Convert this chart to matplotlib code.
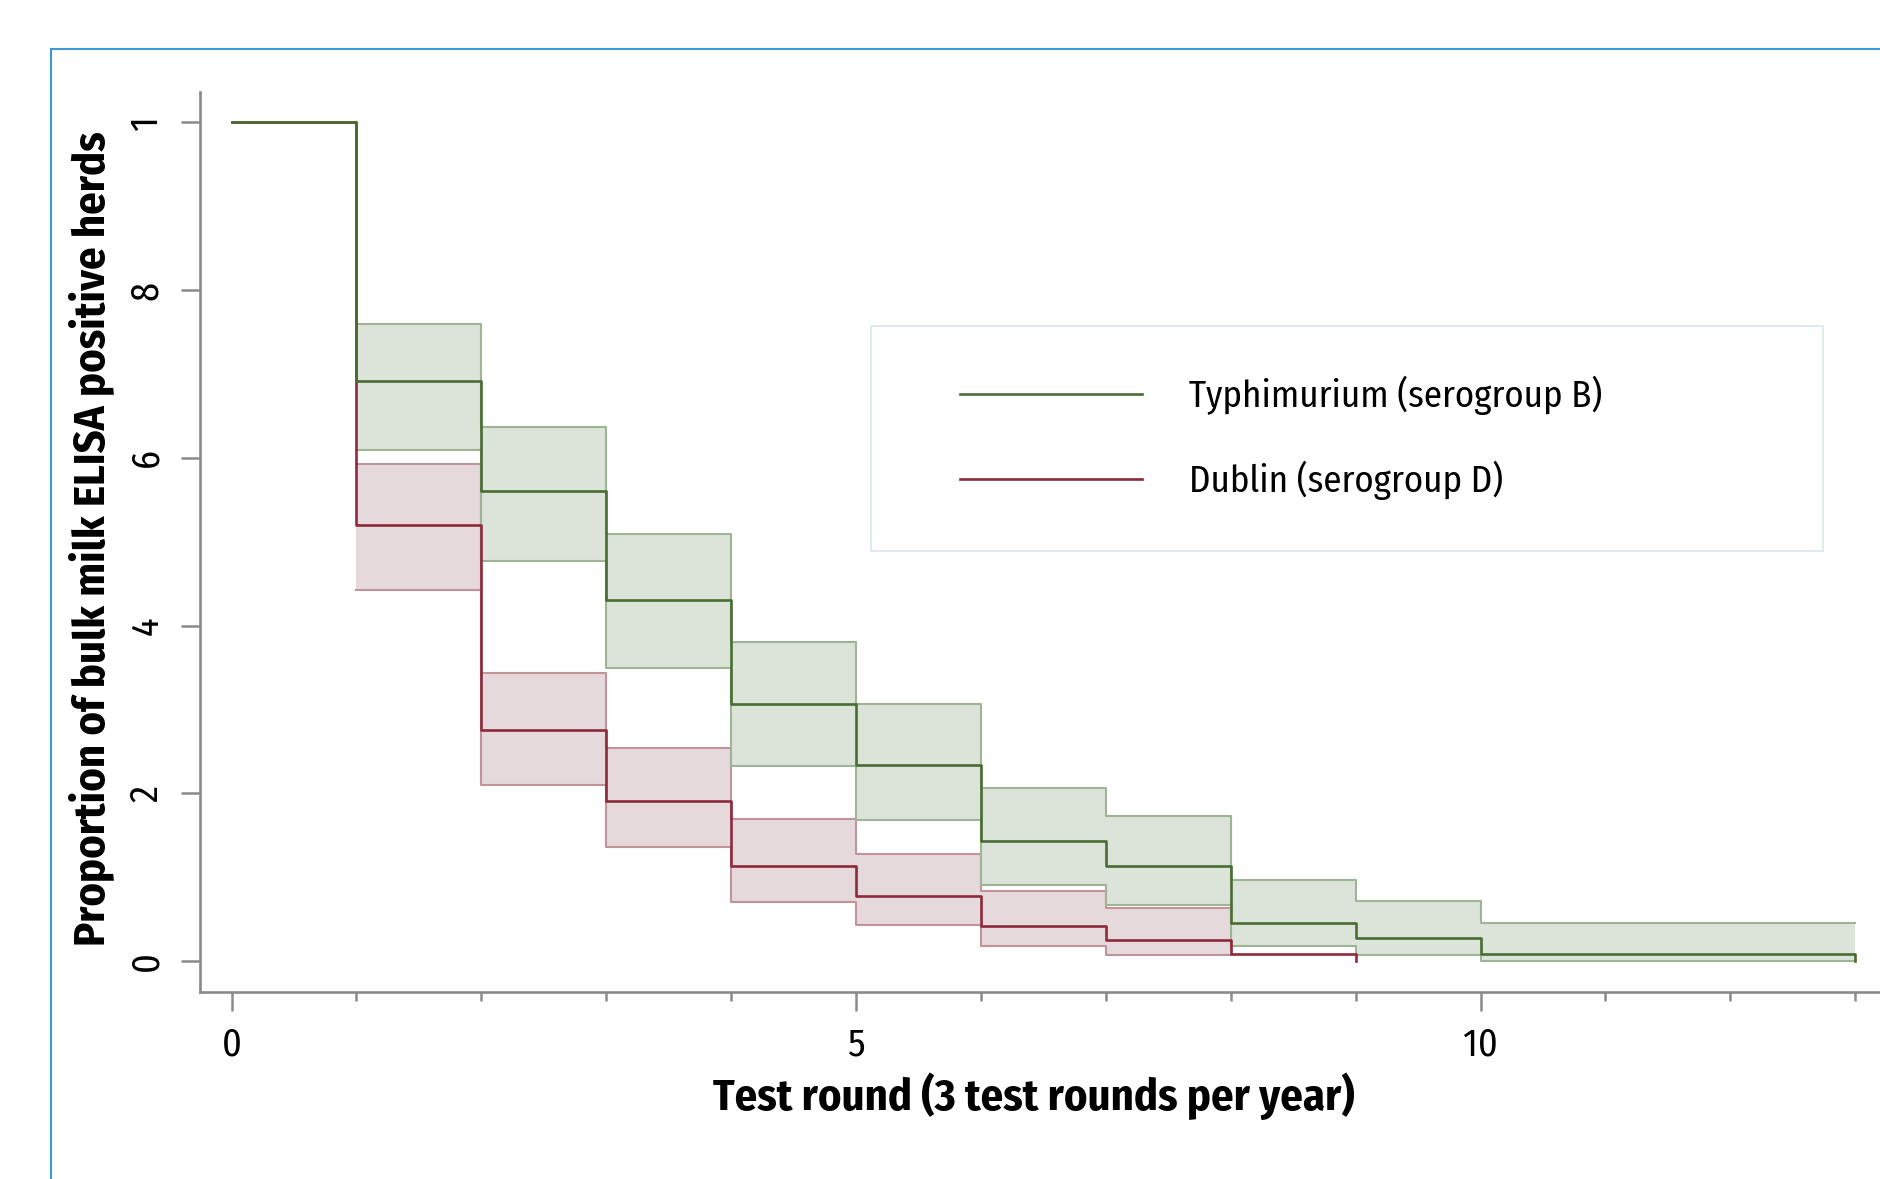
import matplotlib
matplotlib.use("Agg")
import matplotlib.pyplot as plt
from matplotlib import font_manager as fm
from matplotlib.lines import Line2D
from matplotlib.patches import Rectangle

# ---------------- data ----------------
typh_edges = [0, 1, 2, 3, 4, 5, 6, 7, 8, 9, 10, 13]
typh_surv = [1.0, 0.691, 0.561, 0.431, 0.306, 0.234, 0.143, 0.113, 0.046, 0.028, 0.009, 0.0]
typh_ci_edges = [1, 2, 3, 4, 5, 6, 7, 8, 9, 10, 13]
typh_upper = [0.759, 0.637, 0.509, 0.381, 0.307, 0.207, 0.173, 0.097, 0.072, 0.045, 0.045]
typh_lower = [0.609, 0.477, 0.350, 0.233, 0.168, 0.091, 0.067, 0.018, 0.007, 0.000, 0.000]

dub_edges = [0, 1, 2, 3, 4, 5, 6, 7, 8, 9]
dub_surv = [1.0, 0.520, 0.275, 0.191, 0.114, 0.078, 0.042, 0.025, 0.008, 0.0]
dub_ci_edges = [1, 2, 3, 4, 5, 6, 7, 8]
dub_upper = [0.593, 0.344, 0.254, 0.169, 0.128, 0.084, 0.064, 0.064]
dub_lower = [0.442, 0.210, 0.136, 0.071, 0.043, 0.018, 0.007, 0.007]

labels = ["Typhimurium (serogroup B)", "Dublin (serogroup D)"]
yticks = [0, 0.2, 0.4, 0.6, 0.8, 1.0]
ytick_labels = ["0", "2", "4", "6", "8", "1"]
xticks_major = [0, 5, 10]
xticks_minor = [1, 2, 3, 4, 6, 7, 8, 9, 11, 12, 13]
xlabel = "Test round (3 test rounds per year)"
ylabel = "Proportion of bulk milk ELISA positive herds"

# ---------------- fonts ----------------
avail = {f.name for f in fm.fontManager.ttflist}
family = "Fira Sans Condensed" if "Fira Sans Condensed" in avail else "DejaVu Sans"
plt.rcParams["font.family"] = [family, "DejaVu Sans"]

# ---------------- colours ----------------
g_line = "#476d31"
g_fill = "#dce4da"
g_edge = "#9db595"
r_line = "#8d2a3b"
r_fill = "#e6d9db"
r_edge = "#c2939b"
axis_col = "#8a8a8a"

W, H = 1881, 1179
fig = plt.figure(figsize=(W / 100, H / 100), dpi=100)
ax = fig.add_axes([200 / W, 1 - 992 / H, (W - 200) / W, 900 / H])

# CI bands
ax.fill_between(typh_ci_edges, typh_lower, typh_upper, step="post", color=g_fill, lw=0, zorder=1)
ax.fill_between(dub_ci_edges, dub_lower, dub_upper, step="post", color=r_fill, lw=0, zorder=1)
ax.step(dub_ci_edges, dub_upper, where="post", color=r_edge, lw=1.5, zorder=2)
ax.step(dub_ci_edges, dub_lower, where="post", color=r_edge, lw=1.5, zorder=2)
ax.step(typh_ci_edges, typh_upper, where="post", color=g_edge, lw=1.5, zorder=2)
ax.step(typh_ci_edges, typh_lower, where="post", color=g_edge, lw=1.5, zorder=2)

# survival curves
ax.step(dub_edges, dub_surv, where="post", color=r_line, lw=1.9, zorder=3)
ax.step(typh_edges, typh_surv, where="post", color=g_line, lw=1.9, zorder=4)

ax.set_xlim(-0.253, 13.206)
ax.set_ylim(-0.0367, 1.036)

for s in ["top", "right"]:
    ax.spines[s].set_visible(False)
for s in ["left", "bottom"]:
    ax.spines[s].set_color(axis_col)
    ax.spines[s].set_linewidth(1.9)

ax.set_xticks(xticks_major)
ax.set_xticks(xticks_minor, minor=True)
ax.set_xticklabels([str(v) for v in xticks_major])
ax.set_yticks(yticks)
ax.set_yticklabels(ytick_labels)
ax.tick_params(axis="x", which="major", length=13.7, width=1.8, color=axis_col,
               labelsize=27.5, pad=11)
ax.tick_params(axis="x", which="minor", length=6.5, width=1.8, color=axis_col)
ax.tick_params(axis="y", which="major", length=13.7, width=1.8, color=axis_col,
               labelsize=27.5, pad=11, labelrotation=90)
for t in ax.get_yticklabels():
    t.set_va("center")

fig.text(1033.8 / W, 1 - 1096 / H, xlabel, ha="center", va="center",
         fontsize=32, fontweight="bold")
fig.text(91 / W, 1 - 539 / H, ylabel, ha="center", va="center", rotation=90,
         fontsize=32, fontweight="bold")

# legend
fs_leg = 26.5
px = fs_leg * 100 / 72
handles = [Line2D([], [], color=g_line, lw=1.9), Line2D([], [], color=r_line, lw=1.9)]
leg = fig.legend(handles, labels, loc="center left",
                 bbox_to_anchor=(960 / W, 1 - 438 / H),
                 frameon=False, fontsize=fs_leg, handlelength=182 / px,
                 handletextpad=47 / px, labelspacing=46 / px, borderpad=0,
                 borderaxespad=0)
fig.patches.append(Rectangle((871 / W, 1 - 551 / H), (1823 - 871) / W, 225 / H,
                             transform=fig.transFigure, fill=False,
                             edgecolor="#dde9ec", lw=1.3))

# outer blue frame
fig.patches.append(Rectangle((51.5 / W, -0.2), 2.0, 1.2 - 49 / H,
                             transform=fig.transFigure, fill=False,
                             edgecolor="#3f97d6", lw=1.5))

fig.savefig("out.png", dpi=100)
